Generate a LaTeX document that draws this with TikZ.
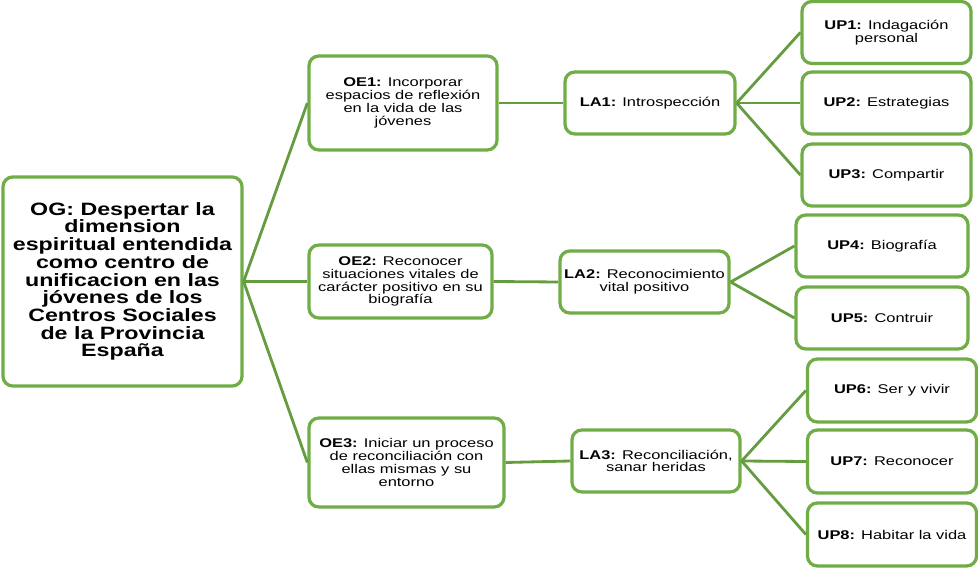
\documentclass[tikz,border=0pt]{standalone}
\usepackage{fontspec}
\setmainfont{Liberation Sans}[FakeStretch=1.3]
\usepackage{tikz}
\definecolor{ogreen}{HTML}{70AD47}

\begin{document}
\begin{tikzpicture}[x=0.025cm, y=-0.025cm,
  box/.style={draw=ogreen, line width=2.3pt, rounded corners=7pt, fill=white,
    align=center, inner sep=0pt, font=\fontsize{9}{9.1}\selectfont},
  bigbox/.style={box, font=\fontsize{12.7}{12.6}\selectfont\bfseries},
  conn/.style={draw=ogreen!90!black, line width=2pt}]
\useasboundingbox (0,0) rectangle (978,569);
% objetivo general
\node[bigbox, minimum width=5.975cm, minimum height=5.225cm] (og) at (122.5,281.5)
  {OG: Despertar la\\dimension\\espiritual entendida\\como centro de\\unificacion en las\\jóvenes de los\\Centros Sociales\\de la Provincia\\España};
% objetivos especificos
\node[box, minimum width=4.7cm, minimum height=2.35cm] (oe1) at (403,103)
  {\textbf{OE1:} Incorporar\\espacios de reflexión\\en la vida de las\\jóvenes};
\node[box, minimum width=4.575cm, minimum height=1.825cm] (oe2) at (400.5,281.5)
  {\textbf{OE2:} Reconocer\\situaciones vitales de\\carácter positivo en su\\biografía};
\node[box, minimum width=4.875cm, minimum height=2.225cm] (oe3) at (406.5,462.5)
  {\textbf{OE3:} Iniciar un proceso\\de reconciliación con\\ellas mismas y su\\entorno};
% lineas de accion
\node[box, minimum width=4.25cm, minimum height=1.55cm] (la1) at (650,103)
  {\textbf{LA1:} Introspección};
\node[box, minimum width=4.225cm, minimum height=1.55cm] (la2) at (644.5,282)
  {\textbf{LA2:} Reconocimiento\\vital positivo};
\node[box, minimum width=4.2cm, minimum height=1.55cm] (la3) at (656,461)
  {\textbf{LA3:} Reconciliación,\\sanar heridas};
% unidades
\node[box, minimum width=4.225cm, minimum height=1.55cm] (up1) at (886.5,32.5)
  {\textbf{UP1:} Indagación\\personal};
\node[box, minimum width=4.225cm, minimum height=1.55cm] (up2) at (886.5,103)
  {\textbf{UP2:} Estrategias};
\node[box, minimum width=4.225cm, minimum height=1.55cm] (up3) at (886.5,175)
  {\textbf{UP3:} Compartir};
\node[box, minimum width=4.3cm, minimum height=1.55cm] (up4) at (882,246)
  {\textbf{UP4:} Biografía};
\node[box, minimum width=4.3cm, minimum height=1.55cm] (up5) at (882,318)
  {\textbf{UP5:} Contruir};
\node[box, minimum width=4.225cm, minimum height=1.575cm] (up6) at (892,390.5)
  {\textbf{UP6:} Ser y vivir};
\node[box, minimum width=4.225cm, minimum height=1.575cm] (up7) at (892,461.5)
  {\textbf{UP7:} Reconocer};
\node[box, minimum width=4.225cm, minimum height=1.575cm] (up8) at (892,534.5)
  {\textbf{UP8:} Habitar la vida};
% conectores
\draw[conn] (og.east) -- (oe1.west);
\draw[conn] (og.east) -- (oe2.west);
\draw[conn] (og.east) -- (oe3.west);
\draw[conn] (oe1.east) -- (la1.west);
\draw[conn] (oe2.east) -- (la2.west);
\draw[conn] (oe3.east) -- (la3.west);
\draw[conn] (la1.east) -- (up1.west);
\draw[conn] (la1.east) -- (up2.west);
\draw[conn] (la1.east) -- (up3.west);
\draw[conn] (la2.east) -- (up4.west);
\draw[conn] (la2.east) -- (up5.west);
\draw[conn] (la3.east) -- (up6.west);
\draw[conn] (la3.east) -- (up7.west);
\draw[conn] (la3.east) -- (up8.west);
\end{tikzpicture}
\end{document}
